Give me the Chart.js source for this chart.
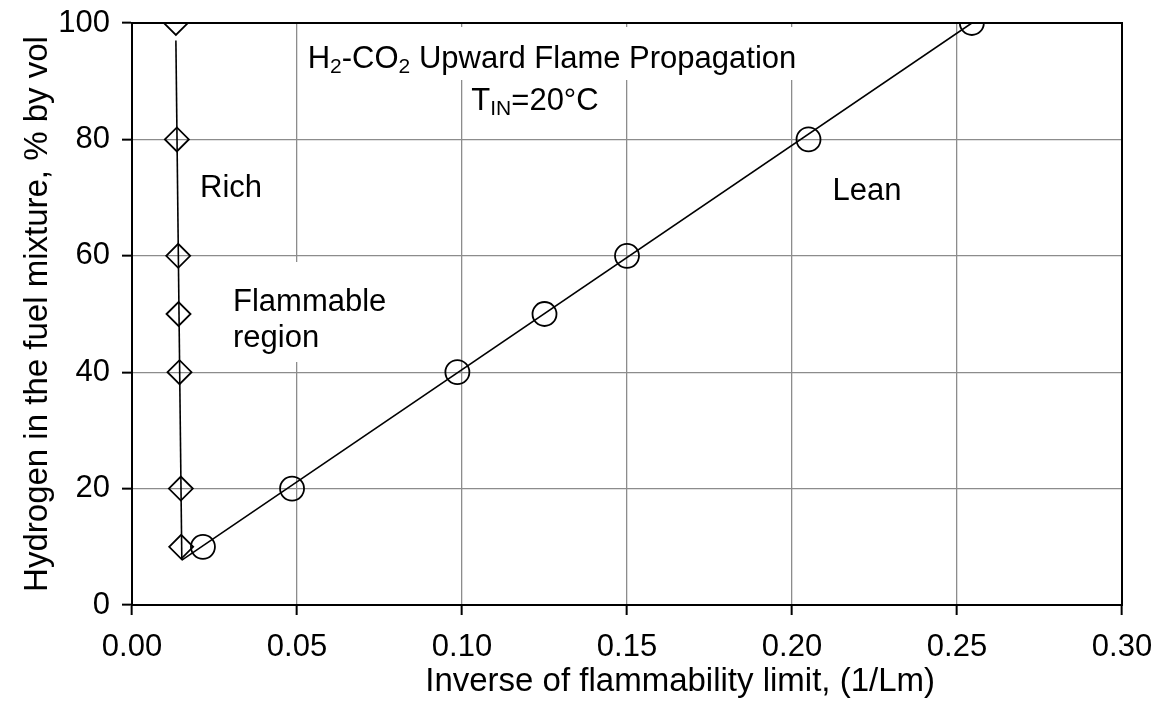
<!DOCTYPE html>
<html>
<head>
<meta charset="utf-8">
<script src="https://cdn.jsdelivr.net/npm/chart.js@4.4.1/dist/chart.umd.min.js"></script>
<style>
  html, body { margin: 0; padding: 0; background: #fff; }
  #wrap { width: 1158px; height: 703px; }
</style>
</head>
<body>
<div id="wrap"><canvas id="c" width="1158" height="703"></canvas></div>
<script>
// ---- data ----
const richH2 = [100, 80, 60, 50, 40, 20, 10];
const richInv = [0.0133, 0.0136, 0.0140, 0.0141, 0.0144, 0.0148, 0.0149];
const leanH2 = [10, 20, 40, 50, 60, 80, 100];
const leanInv = [0.0215, 0.0485, 0.0986, 0.125, 0.150, 0.205, 0.2545];
// linear trend lines (end points)
const richTrendInv = [0.0133, 0.0151];
const richTrendH2 = [97, 7.7];
const leanTrendInv = [0.0151, 0.2545];
const leanTrendH2 = [7.7, 100];
// axis ticks
const xTicks = [0, 0.05, 0.10, 0.15, 0.20, 0.25, 0.30];
const yTicks = [0, 20, 40, 60, 80, 100];

const FONT = '"Liberation Sans", Arial, sans-serif';
const FS = 31;
const pts = (xs, ys) => xs.map((x, i) => ({x: x, y: ys[i]}));

// text annotations with white backing boxes
const notes = [
  {cx: 552, cy: 59, box: [300, 27, 806, 80], segs: [['H'], ['2', 1], ['-CO'], ['2', 1], [' Upward Flame Propagation']]},
  {cx: 535, cy: 101, box: null, segs: [['T'], ['IN', 1], ['=20°C']]},
  {cx: 231, cy: 188, box: null, segs: [['Rich']]},
  {cy: 302, box: [226, 262, 372, 362], segs: [['Flammable']], left: 233},
  {cy: 338, box: null, segs: [['region']], left: 233},
  {cx: 867, cy: 191, box: null, segs: [['Lean']]}
];
const xTitle = 'Inverse of flammability limit, (1/Lm)';

const annot = {
  id: 'annot',
  beforeDatasetsDraw(chart) {
    const ctx = chart.ctx;
    const a = chart.chartArea;
    ctx.save();
    ctx.fillStyle = '#fff';
    notes.forEach(n => { if (n.box) ctx.fillRect(n.box[0], n.box[1], n.box[2] - n.box[0], n.box[3] - n.box[1]); });
    ctx.strokeStyle = '#000';
    ctx.lineWidth = 2;
    ctx.strokeRect(a.left, a.top, a.right - a.left, a.bottom - a.top);
    ctx.fillStyle = '#000';
    ctx.textBaseline = 'middle';
    ctx.textAlign = 'left';
    const big = FS + 'px ' + FONT, small = '21px ' + FONT;
    notes.forEach(n => {
      let w = 0;
      n.segs.forEach(s => { ctx.font = s[1] ? small : big; w += ctx.measureText(s[0]).width; });
      let x = (n.left !== undefined) ? n.left : n.cx - w / 2;
      n.segs.forEach(s => {
        ctx.font = s[1] ? small : big;
        ctx.fillText(s[0], x, n.cy + (s[1] ? 8 : 0));
        x += ctx.measureText(s[0]).width;
      });
    });
    // x axis title
    ctx.font = '33px ' + FONT;
    ctx.textAlign = 'right';
    ctx.fillText(xTitle, 935, 682);
    ctx.restore();
  }
};

new Chart(document.getElementById('c'), {
  type: 'scatter',
  data: {
    datasets: [
      {label: 'Rich trend', type: 'line', data: pts(richTrendInv, richTrendH2), borderColor: '#000', borderWidth: 1.6, pointRadius: 0, fill: false},
      {label: 'Lean trend', type: 'line', data: pts(leanTrendInv, leanTrendH2), borderColor: '#000', borderWidth: 1.6, pointRadius: 0, fill: false},
      {label: 'Rich', data: pts(richInv, richH2), pointStyle: 'rectRot', pointRadius: 12, pointHoverRadius: 12,
        borderColor: '#000', backgroundColor: 'rgba(0,0,0,0)', borderWidth: 1.8},
      {label: 'Lean', data: pts(leanInv, leanH2), pointStyle: 'circle', pointRadius: 12, pointHoverRadius: 12,
        borderColor: '#000', backgroundColor: 'rgba(0,0,0,0)', borderWidth: 1.8}
    ]
  },
  plugins: [annot],
  options: {
    responsive: false,
    animation: false,
    devicePixelRatio: 1,
    layout: {padding: {top: 23, right: 36, left: 0, bottom: 0}},
    plugins: {legend: {display: false}, tooltip: {enabled: false}, title: {display: false}},
    scales: {
      x: {
        type: 'linear', min: 0, max: 0.30,
        afterFit: s => { s.height = 98; s.paddingLeft = 0; s.paddingRight = 0; },
        afterBuildTicks: s => { s.ticks = xTicks.map(v => ({value: v})); },
        ticks: {color: '#000', font: {size: FS, family: FONT}, padding: 14, maxRotation: 0, autoSkip: false,
          callback: v => Number(v).toFixed(2)},
        grid: {color: '#8c8c8c', lineWidth: 1.3, tickColor: '#000', tickLength: 10, tickWidth: 2},
        border: {color: '#000', width: 2},
        title: {display: false}
      },
      y: {
        type: 'linear', min: 0, max: 100,
        afterFit: s => { s.width = 132; s.paddingTop = 0; s.paddingBottom = 0; },
        afterBuildTicks: s => { s.ticks = yTicks.map(v => ({value: v})); },
        ticks: {color: '#000', font: {size: FS, family: FONT}, padding: 12, autoSkip: false},
        grid: {color: '#8c8c8c', lineWidth: 1.3, tickColor: '#000', tickLength: 10, tickWidth: 2},
        border: {color: '#000', width: 2},
        title: {display: true, text: 'Hydrogen in the fuel mixture, % by vol', color: '#000',
          font: {size: 33, family: FONT}, padding: {top: 18, bottom: 0}}
      }
    }
  }
});
</script>
</body>
</html>
